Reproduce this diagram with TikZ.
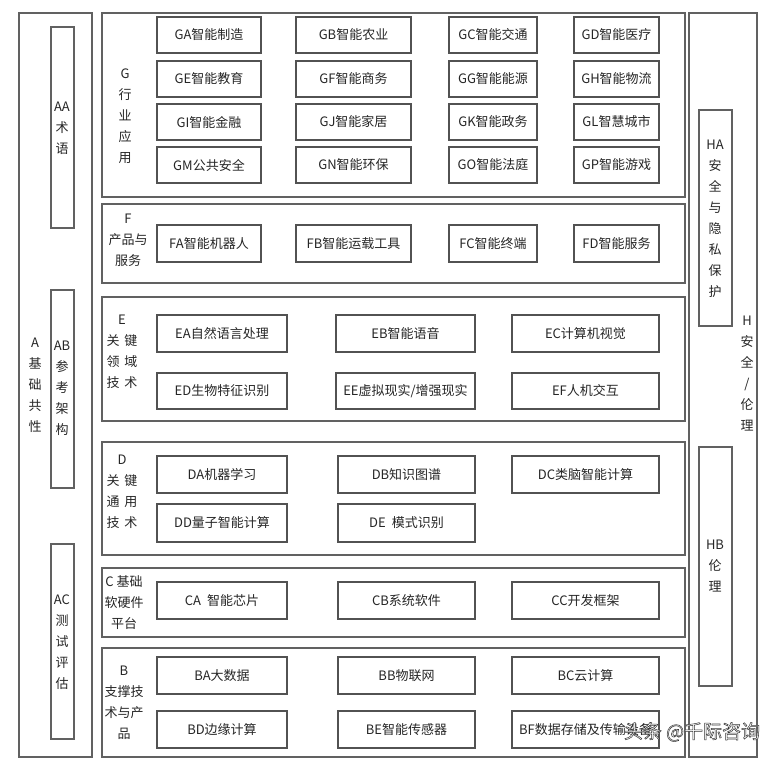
\documentclass[tikz,border=0pt]{standalone}
\usepackage{fontspec}
\setmainfont{Noto Sans CJK SC}
\begin{document}
\begin{tikzpicture}[x=1pt,y=-1pt,
  frame/.style={draw=black!62, line width=1.5pt, inner sep=0pt},
  cell/.style={draw=black!68, line width=1.4pt, inner sep=0pt, text=black!85,
    font=\fontsize{13}{15}\selectfont},
  vlabel/.style={align=center, inner sep=0pt, text=black!85,
    font=\fontsize{13}{21}\selectfont},
  wmark/.style={inner sep=0pt, text=white, font=\fontsize{19}{21}\selectfont}]
\newcommand\myrect[6]{%
  \node[#6, minimum width={(#4-#2)*1pt}, minimum height={(#5-#3)*1pt}]
    (#1) at ({(#2+#4)/2},{(#3+#5)/2}) {};}
\newcommand\mycell[6]{%
  \node[cell, minimum width={(#4-#2)*1pt}, minimum height={(#5-#3)*1pt}]
    (#1) at ({(#2+#4)/2},{(#3+#5)/2}) {#6};}
\useasboundingbox (0,0) rectangle (782,766);
\fill[white] (0,0) rectangle (782,766);
% frames
\myrect{A}{19}{13}{92}{757}{frame}
\myrect{AA}{51}{27}{74}{228}{frame}
\myrect{AB}{51}{290}{74}{488}{frame}
\myrect{AC}{51}{544}{74}{739}{frame}
\myrect{G}{102}{13}{685}{197}{frame}
\myrect{F}{102}{204}{685}{283}{frame}
\myrect{E}{102}{297}{685}{421}{frame}
\myrect{D}{102}{442}{685}{555}{frame}
\myrect{C}{102}{568}{685}{637}{frame}
\myrect{B}{102}{648}{685}{757}{frame}
\myrect{H}{689}{13}{757}{757}{frame}
\myrect{HA}{699}{110}{732}{326}{frame}
\myrect{HB}{699}{447}{732}{686}{frame}
% vertical labels
\node[vlabel] (Alab) at (35,385) {A\\基\\础\\共\\性};
\node[vlabel] (AAlab) at (62,128.5) {AA\\术\\语};
\node[vlabel] (ABlab) at (62,388.5) {AB\\参\\考\\架\\构};
\node[vlabel] (AClab) at (62,642) {AC\\测\\试\\评\\估};
\node[vlabel] (Glab) at (125,116.5) {G\\行\\业\\应\\用};
\node[vlabel] (Flab) at (128,240) {F\\产品与\\服务};
\node[vlabel] (Elab) at (122,351.5) {E\\关\hspace{5pt}键\\领\hspace{5pt}域\\技\hspace{5pt}术};
\node[vlabel] (Dlab) at (122,491.5) {D\\关\hspace{5pt}键\\通\hspace{5pt}用\\技\hspace{5pt}术};
\node[vlabel] (Clab) at (124,603) {C 基础\\软硬件\\平台};
\node[vlabel] (Blab) at (124,702.5) {B\\支撑技\\术与产\\品};
\node[vlabel] (HAlab) at (715,219) {HA\\安\\全\\与\\隐\\私\\保\\护};
\node[vlabel] (Hlab) at (747,373.5) {H\\安\\全\\/\\伦\\理};
\node[vlabel] (HBlab) at (715,566.5) {HB\\伦\\理};
% G row cells
\mycell{GA}{157}{17}{261}{53}{GA智能制造}
\mycell{GB}{296}{17}{411}{53}{GB智能农业}
\mycell{GC}{449}{17}{537}{53}{GC智能交通}
\mycell{GD}{574}{17}{659}{53}{GD智能医疗}
\mycell{GE}{157}{61}{261}{97}{GE智能教育}
\mycell{GF}{296}{61}{411}{97}{GF智能商务}
\mycell{GG}{449}{61}{537}{97}{GG智能能源}
\mycell{GH}{574}{61}{659}{97}{GH智能物流}
\mycell{GI}{157}{104}{261}{140}{GI智能金融}
\mycell{GJ}{296}{104}{411}{140}{GJ智能家居}
\mycell{GK}{449}{104}{537}{140}{GK智能政务}
\mycell{GL}{574}{104}{659}{140}{GL智慧城市}
\mycell{GM}{157}{147}{261}{183}{GM公共安全}
\mycell{GN}{296}{147}{411}{183}{GN智能环保}
\mycell{GO}{449}{147}{537}{183}{GO智能法庭}
\mycell{GP}{574}{147}{659}{183}{GP智能游戏}
% F row
\mycell{FA}{157}{225}{261}{262}{FA智能机器人}
\mycell{FB}{296}{225}{411}{262}{FB智能运载工具}
\mycell{FC}{449}{225}{537}{262}{FC智能终端}
\mycell{FD}{574}{225}{659}{262}{FD智能服务}
% E rows
\mycell{EA}{157}{315}{287}{352}{EA自然语言处理}
\mycell{EB}{336}{315}{475}{352}{EB智能语音}
\mycell{EC}{512}{315}{659}{352}{EC计算机视觉}
\mycell{ED}{157}{373}{287}{409}{ED生物特征识别}
\mycell{EE}{336}{373}{475}{409}{EE虚拟现实/增强现实}
\mycell{EF}{512}{373}{659}{409}{EF人机交互}
% D rows
\mycell{DA}{157}{456}{287}{493}{DA机器学习}
\mycell{DB}{338}{456}{475}{493}{DB知识图谱}
\mycell{DC}{512}{456}{659}{493}{DC类脑智能计算}
\mycell{DD}{157}{504}{287}{542}{DD量子智能计算}
\mycell{DE}{338}{504}{475}{542}{DE\hspace{6pt}模式识别}
% C row
\mycell{CA}{157}{582}{287}{619}{CA\hspace{6pt}智能芯片}
\mycell{CB}{338}{582}{475}{619}{CB系统软件}
\mycell{CC}{512}{582}{659}{619}{CC开发框架}
% B rows
\mycell{BA}{157}{657}{287}{694}{BA大数据}
\mycell{BB}{338}{657}{475}{694}{BB物联网}
\mycell{BC}{512}{657}{659}{694}{BC云计算}
\mycell{BD}{157}{711}{287}{748}{BD边缘计算}
\mycell{BE}{338}{711}{475}{748}{BE智能传感器}
\mycell{BF}{512}{711}{659}{748}{BF数据存储及传输设备}
% watermark: white text with thin dark outline (fill+stroke render mode)
\node[wmark] (wm) at (692,732)
  {\special{pdf:literal direct 2 Tr 0.5 w 0.2 G 1 g}头条 @千际咨询\special{pdf:literal direct 0 Tr}};
\end{tikzpicture}
\end{document}
